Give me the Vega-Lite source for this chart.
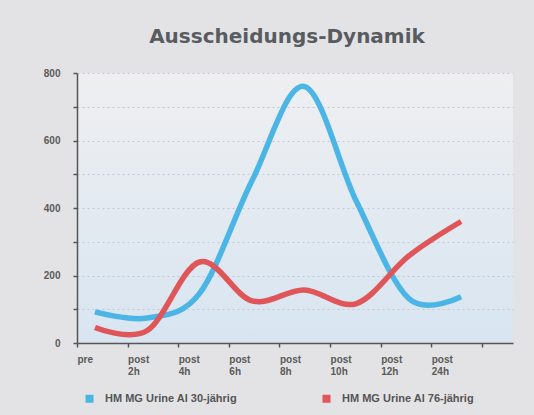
{
  "$schema": "https://vega.github.io/schema/vega-lite/v6.json",
  "width": 436,
  "height": 270,
  "autosize": {"type": "none"},
  "padding": {"left": 77, "top": 73, "right": 21, "bottom": 72},
  "background": "#e3e3e5",
  "title": {
    "text": "Ausscheidungs-Dynamik",
    "font": "DejaVu Sans",
    "fontWeight": "bold",
    "fontSize": 20,
    "color": "#585c61",
    "anchor": "middle",
    "dx": -8,
    "offset": 5,
    "baseline": "alphabetic"
  },
  "config": {
    "view": {
      "stroke": null,
      "fill": {
        "gradient": "linear",
        "x1": 0, "y1": 0, "x2": 0, "y2": 1,
        "stops": [
          {"offset": 0, "color": "#efeff1"},
          {"offset": 1, "color": "#d8e5f1"}
        ]
      }
    },
    "axis": {
      "labelFont": "Liberation Sans",
      "labelFontWeight": "bold",
      "labelFontSize": 10,
      "labelColor": "#5a5a5a",
      "domainColor": "#555555",
      "domainWidth": 1.5,
      "tickColor": "#555555",
      "tickWidth": 1.5,
      "tickSize": 4,
      "title": null
    }
  },
  "data": {
    "values": [
      {"i": 0, "step": "pre", "series": "HM MG Urine Al 30-jährig", "value": 92},
      {"i": 1, "step": "post 2h", "series": "HM MG Urine Al 30-jährig", "value": 74},
      {"i": 2, "step": "post 4h", "series": "HM MG Urine Al 30-jährig", "value": 147},
      {"i": 3, "step": "post 6h", "series": "HM MG Urine Al 30-jährig", "value": 480},
      {"i": 4, "step": "post 8h", "series": "HM MG Urine Al 30-jährig", "value": 760},
      {"i": 5, "step": "post 10h", "series": "HM MG Urine Al 30-jährig", "value": 419},
      {"i": 6, "step": "post 12h", "series": "HM MG Urine Al 30-jährig", "value": 132},
      {"i": 7, "step": "post 24h", "series": "HM MG Urine Al 30-jährig", "value": 137},
      {"i": 0, "step": "pre", "series": "HM MG Urine Al 76-jährig", "value": 46},
      {"i": 1, "step": "post 2h", "series": "HM MG Urine Al 76-jährig", "value": 37},
      {"i": 2, "step": "post 4h", "series": "HM MG Urine Al 76-jährig", "value": 240},
      {"i": 3, "step": "post 6h", "series": "HM MG Urine Al 76-jährig", "value": 125},
      {"i": 4, "step": "post 8h", "series": "HM MG Urine Al 76-jährig", "value": 157},
      {"i": 5, "step": "post 10h", "series": "HM MG Urine Al 76-jährig", "value": 117},
      {"i": 6, "step": "post 12h", "series": "HM MG Urine Al 76-jährig", "value": 258},
      {"i": 7, "step": "post 24h", "series": "HM MG Urine Al 76-jährig", "value": 360}
    ]
  },
  "mark": {"type": "line", "interpolate": "cardinal", "tension": 0, "strokeWidth": 5.5, "strokeCap": "butt"},
  "encoding": {
    "x": {
      "field": "i",
      "type": "quantitative",
      "scale": {"domain": [-0.344, 7.993], "nice": false, "zero": false},
      "axis": {
        "values": [-0.344, 0.6237, 1.5914, 2.5591, 3.5268, 4.4945, 5.4622, 6.4299, 7.3976],
        "grid": false,
        "labelAlign": "left",
        "labelBaseline": "top",
        "labelDx": 9,
        "labelPadding": 7,
        "labelLineHeight": 12,
        "labelExpr": "[['pre'],['post','2h'],['post','4h'],['post','6h'],['post','8h'],['post','10h'],['post','12h'],['post','24h'],['']][round((datum.value+0.344)/0.9677)]"
      }
    },
    "y": {
      "field": "value",
      "type": "quantitative",
      "scale": {"domain": [0, 800], "nice": false},
      "axis": {
        "values": [0, 100, 200, 300, 400, 500, 600, 700, 800],
        "labelExpr": "datum.value % 200 == 0 ? datum.label : ''",
        "labelPadding": 13,
        "labelDy": -4,
        "grid": true,
        "gridColor": "#c3cad4",
        "gridDash": [2, 3],
        "gridWidth": 1
      }
    },
    "color": {
      "field": "series",
      "type": "nominal",
      "scale": {
        "domain": ["HM MG Urine Al 30-jährig", "HM MG Urine Al 76-jährig"],
        "range": ["#4bb5e6", "#df5558"]
      },
      "legend": {
        "title": null,
        "orient": "none",
        "legendX": 7,
        "legendY": 320,
        "direction": "horizontal",
        "padding": 0,
        "symbolType": "square",
        "symbolSize": 16,
        "symbolStrokeWidth": 4,
        "labelFont": "Liberation Sans",
        "labelFontWeight": "bold",
        "labelFontSize": 11,
        "labelColor": "#555555",
        "labelOffset": 10,
        "columnPadding": 78
      }
    }
  }
}
